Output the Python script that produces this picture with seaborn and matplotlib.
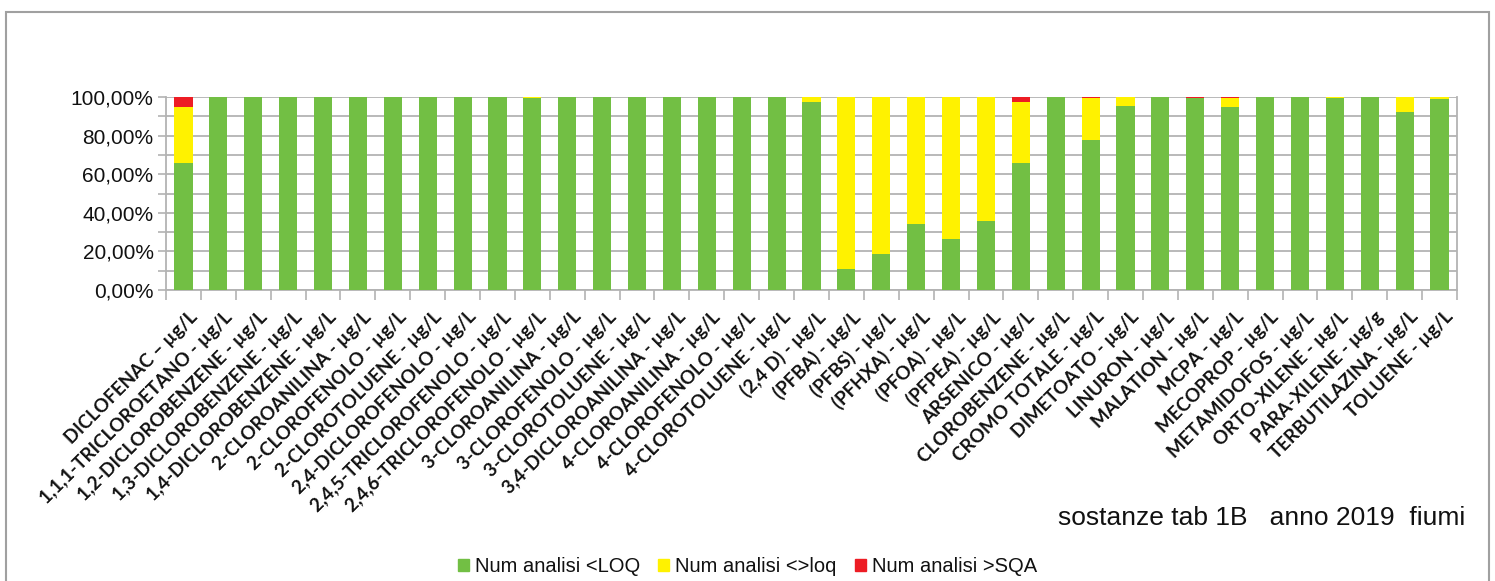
import matplotlib
matplotlib.use("Agg")
import matplotlib.pyplot as plt
import matplotlib.patches as mpatches
from matplotlib.ticker import FixedLocator, FuncFormatter
import seaborn as sns
import pandas as pd
import numpy as np

categories = [
    "DICLOFENAC – µg/L", "1,1,1-TRICLOROETANO - µg/L", "1,2-DICLOROBENZENE - µg/L",
    "1,3-DICLOROBENZENE - µg/L", "1,4-DICLOROBENZENE - µg/L", "2-CLOROANILINA - µg/L",
    "2-CLOROFENOLO - µg/L", "2-CLOROTOLUENE - µg/L", "2,4-DICLOROFENOLO - µg/L",
    "2,4,5-TRICLOROFENOLO - µg/L", "2,4,6-TRICLOROFENOLO - µg/L", "3-CLOROANILINA - µg/L",
    "3-CLOROFENOLO - µg/L", "3-CLOROTOLUENE - µg/L", "3,4-DICLOROANILINA - µg/L",
    "4-CLOROANILINA - µg/L", "4-CLOROFENOLO - µg/L", "4-CLOROTOLUENE - µg/L",
    "(2,4 D) - µg/L", "(PFBA) - µg/L", "(PFBS) - µg/L", "(PFHXA) - µg/L",
    "(PFOA) - µg/L", "(PFPEA) - µg/L", "ARSENICO - µg/L", "CLOROBENZENE - µg/L",
    "CROMO TOTALE - µg/L", "DIMETOATO - µg/L", "LINURON - µg/L", "MALATION - µg/L",
    "MCPA - µg/L", "MECOPROP - µg/L", "METAMIDOFOS - µg/L", "ORTO-XILENE - µg/L",
    "PARA-XILENE - µg/g", "TERBUTILAZINA - µg/L", "TOLUENE - µg/L",
]

loq = [65.7, 100, 100, 100, 100, 100, 100, 100, 100, 100, 99.5, 100, 100, 100, 100,
       100, 100, 100, 97.2, 11.1, 18.9, 34.4, 26.6, 36.0, 65.6, 100, 77.5, 95.2, 100,
       99.5, 94.6, 100, 100, 99.3, 100, 92.0, 98.8]
between = [28.9, 0, 0, 0, 0, 0, 0, 0, 0, 0, 0.5, 0, 0, 0, 0,
           0, 0, 0, 2.8, 88.9, 81.1, 65.6, 73.4, 64.0, 31.6, 0, 21.8, 4.8, 0,
           0, 4.7, 0, 0, 0.7, 0, 8.0, 1.2]
sqa = [5.4, 0, 0, 0, 0, 0, 0, 0, 0, 0, 0, 0, 0, 0, 0,
       0, 0, 0, 0, 0, 0, 0, 0, 0, 2.8, 0, 0.7, 0, 0,
       0.5, 0.7, 0, 0, 0, 0, 0, 0]

series_names = ["Num analisi <LOQ", "Num analisi <>loq", "Num analisi >SQA"]
colors = ["#72bf44", "#fff200", "#ed1c24"]

df = pd.DataFrame({"cat": categories, "loq": loq, "between": between, "sqa": sqa})
df["c1"] = df["loq"]
df["c2"] = df["loq"] + df["between"]
df["c3"] = df["c2"] + df["sqa"]

sns.set_style("white")
plt.rcParams["font.family"] = ["Liberation Sans", "DejaVu Sans"]

fig = plt.figure(figsize=(14.95, 5.81), dpi=100)
ax = fig.add_axes([166/1495, 1-290/581, (1457-166)/1495, (290-97)/581])

grid_c = "#b3b3b3"
for col, c in zip(["c3", "c2", "c1"], colors[::-1]):
    sns.barplot(data=df, x="cat", y=col, color=c, width=0.52, ax=ax,
                saturation=1, order=categories, zorder=3, linewidth=0,
                edgecolor=c, errorbar=None)

ax.set_xlim(-0.5, len(categories) - 0.5)
ax.set_ylim(0, 100)
ax.set_xlabel("")
ax.set_ylabel("")

ax.yaxis.set_major_locator(FixedLocator(np.arange(0, 101, 20)))
ax.yaxis.set_minor_locator(FixedLocator(np.arange(10, 100, 20)))
ax.yaxis.set_major_formatter(FuncFormatter(lambda v, p: f"{v:.2f}".replace(".", ",") + "%"))
ax.grid(True, axis="y", which="both", color=grid_c, lw=1.3, zorder=0)
ax.set_axisbelow(True)
ax.tick_params(axis="y", which="both", direction="out", length=6, width=1.2,
               color=grid_c, labelsize=15, pad=3, left=True, labelcolor="#111111")

ax.xaxis.set_major_locator(FixedLocator(np.arange(len(categories))))
ax.xaxis.set_minor_locator(FixedLocator(np.arange(len(categories) + 1) - 0.5))
ax.tick_params(axis="x", which="major", length=0, pad=13)
ax.tick_params(axis="x", which="minor", direction="out", length=7, width=1.2,
               color=grid_c, bottom=True)
ax.set_xticklabels(categories, rotation=45, ha="right", va="top",
                   rotation_mode="anchor", fontsize=13.5, fontweight="bold",
                   family=["Lato", "DejaVu Sans"], color="#111111")
for lbl in ax.get_xticklabels():
    lbl.set_transform(lbl.get_transform() + matplotlib.transforms.ScaledTranslation(5/100, 0, fig.dpi_scale_trans))

for s in ["left", "right", "bottom"]:
    ax.spines[s].set_visible(True)
    ax.spines[s].set_color(grid_c)
    ax.spines[s].set_linewidth(1.3)
ax.spines["top"].set_visible(False)

fig.text(1465/1495, 1-518/581, "sostanze tab 1B   anno 2019  fiumi",
         ha="right", va="center", fontsize=19, color="#111111")

handles = [mpatches.Patch(color=c, label=n) for c, n in zip(colors, series_names)]
fig.legend(handles=handles, loc="center", bbox_to_anchor=(0.5, 1-567/581), ncol=3,
           frameon=False, fontsize=14.5, handlelength=0.55, handleheight=0.55,
           handletextpad=0.3, columnspacing=0.9, labelcolor="#111111")

fig.patches.append(mpatches.Rectangle((6/1495, -0.1), (1489-6)/1495, 1.1-12/581,
                                      transform=fig.transFigure, fill=False,
                                      edgecolor="#a0a0a0", lw=1.5))

fig.savefig("out.png", dpi=100, facecolor="white")
